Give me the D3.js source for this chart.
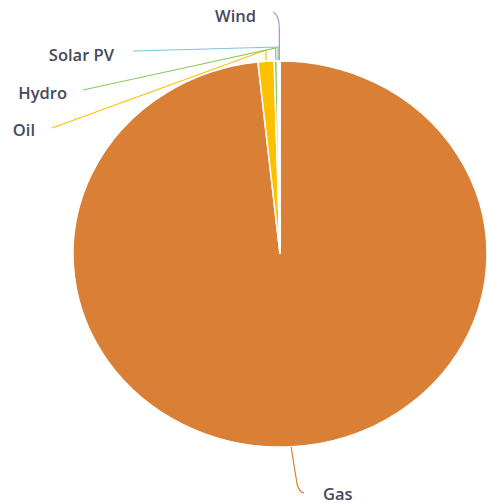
<!DOCTYPE html>
<html><head><meta charset="utf-8">
<script src="https://cdn.jsdelivr.net/npm/d3@7"></script>
<style>body{margin:0;background:#fff}svg{display:block}</style>
</head><body>
<svg id="c" width="487" height="503"></svg>
<script>
// Data
const categories = ["Gas", "Oil", "Hydro", "Solar PV", "Wind"];
const shares = [98.3, 1.25, 0.25, 0.1, 0.1];
const colors = ["#D97F36", "#FFC000", "#8CC860", "#7EC4E0", "#A396D2"];

// Layout config (not data)
const cx = 280, cy = 254, rx = 207, ry = 193;
const labelCfg = {
  "Gas":      {tx: 323, ty: 493, anchor: "start", kind: "gas"},
  "Oil":      {tx: 35,  ty: 129, anchor: "end", lx: 52,  ly: 128, ey: 50},
  "Hydro":    {tx: 67,  ty: 92,  anchor: "end", lx: 83,  ly: 90,  ey: 48},
  "Solar PV": {tx: 114, ty: 54,  anchor: "end", lx: 133, ly: 51,  ey: 47},
  "Wind":     {tx: 256, ty: 15,  anchor: "end", kind: "wind"}
};

const data = categories.map((c, i) => ({name: c, value: shares[i], color: colors[i]}));
const pie = d3.pie().sort(null).value(d => d.value).startAngle(0).endAngle(2 * Math.PI);
const arcs = pie(data);
const arc = d3.arc().innerRadius(0).outerRadius(ry);

const svg = d3.select("#c");
const g = svg.append("g").attr("transform", `translate(${cx},${cy}) scale(${rx / ry},1)`);
g.selectAll("path").data(arcs).join("path")
  .attr("d", arc)
  .attr("fill", d => d.data.color)
  .attr("stroke", "#fff")
  .attr("stroke-width", 1.5)
  .attr("vector-effect", "non-scaling-stroke");

function edgePoint(a) {
  return [cx + rx * Math.sin(a), cy - ry * Math.cos(a)];
}

const lines = svg.append("g").attr("fill", "none").attr("stroke-width", 1.2);
arcs.forEach(d => {
  const cfg = labelCfg[d.data.name];
  const mid = (d.startAngle + d.endAngle) / 2;
  const [ax, ay] = edgePoint(mid);
  const p = d3.path();
  if (cfg.kind === "gas") {
    p.moveTo(ax, ay);
    p.lineTo(ax + 6, 484);
    p.quadraticCurveTo(ax + 8, 492, ax + 13, 493);
  } else if (cfg.kind === "wind") {
    p.moveTo(ax, ay - 1);
    p.lineTo(ax, 28);
    p.quadraticCurveTo(ax, 16, ax - 6, 12);
  } else {
    p.moveTo(ax, ay - 1);
    p.lineTo(ax, cfg.ey);
    p.lineTo(cfg.lx, cfg.ly);
  }
  lines.append("path").attr("d", p.toString()).attr("stroke", d.data.color);
});

svg.append("g").selectAll("text").data(arcs).join("text")
  .attr("x", d => labelCfg[d.data.name].tx)
  .attr("y", d => labelCfg[d.data.name].ty)
  .attr("text-anchor", d => labelCfg[d.data.name].anchor)
  .attr("dominant-baseline", "central")
  .attr("font-family", "'Open Sans', sans-serif")
  .attr("font-weight", 600)
  .attr("font-size", "16.5px")
  .attr("fill", "#46485C")
  .text(d => d.data.name);
</script>
</body></html>
